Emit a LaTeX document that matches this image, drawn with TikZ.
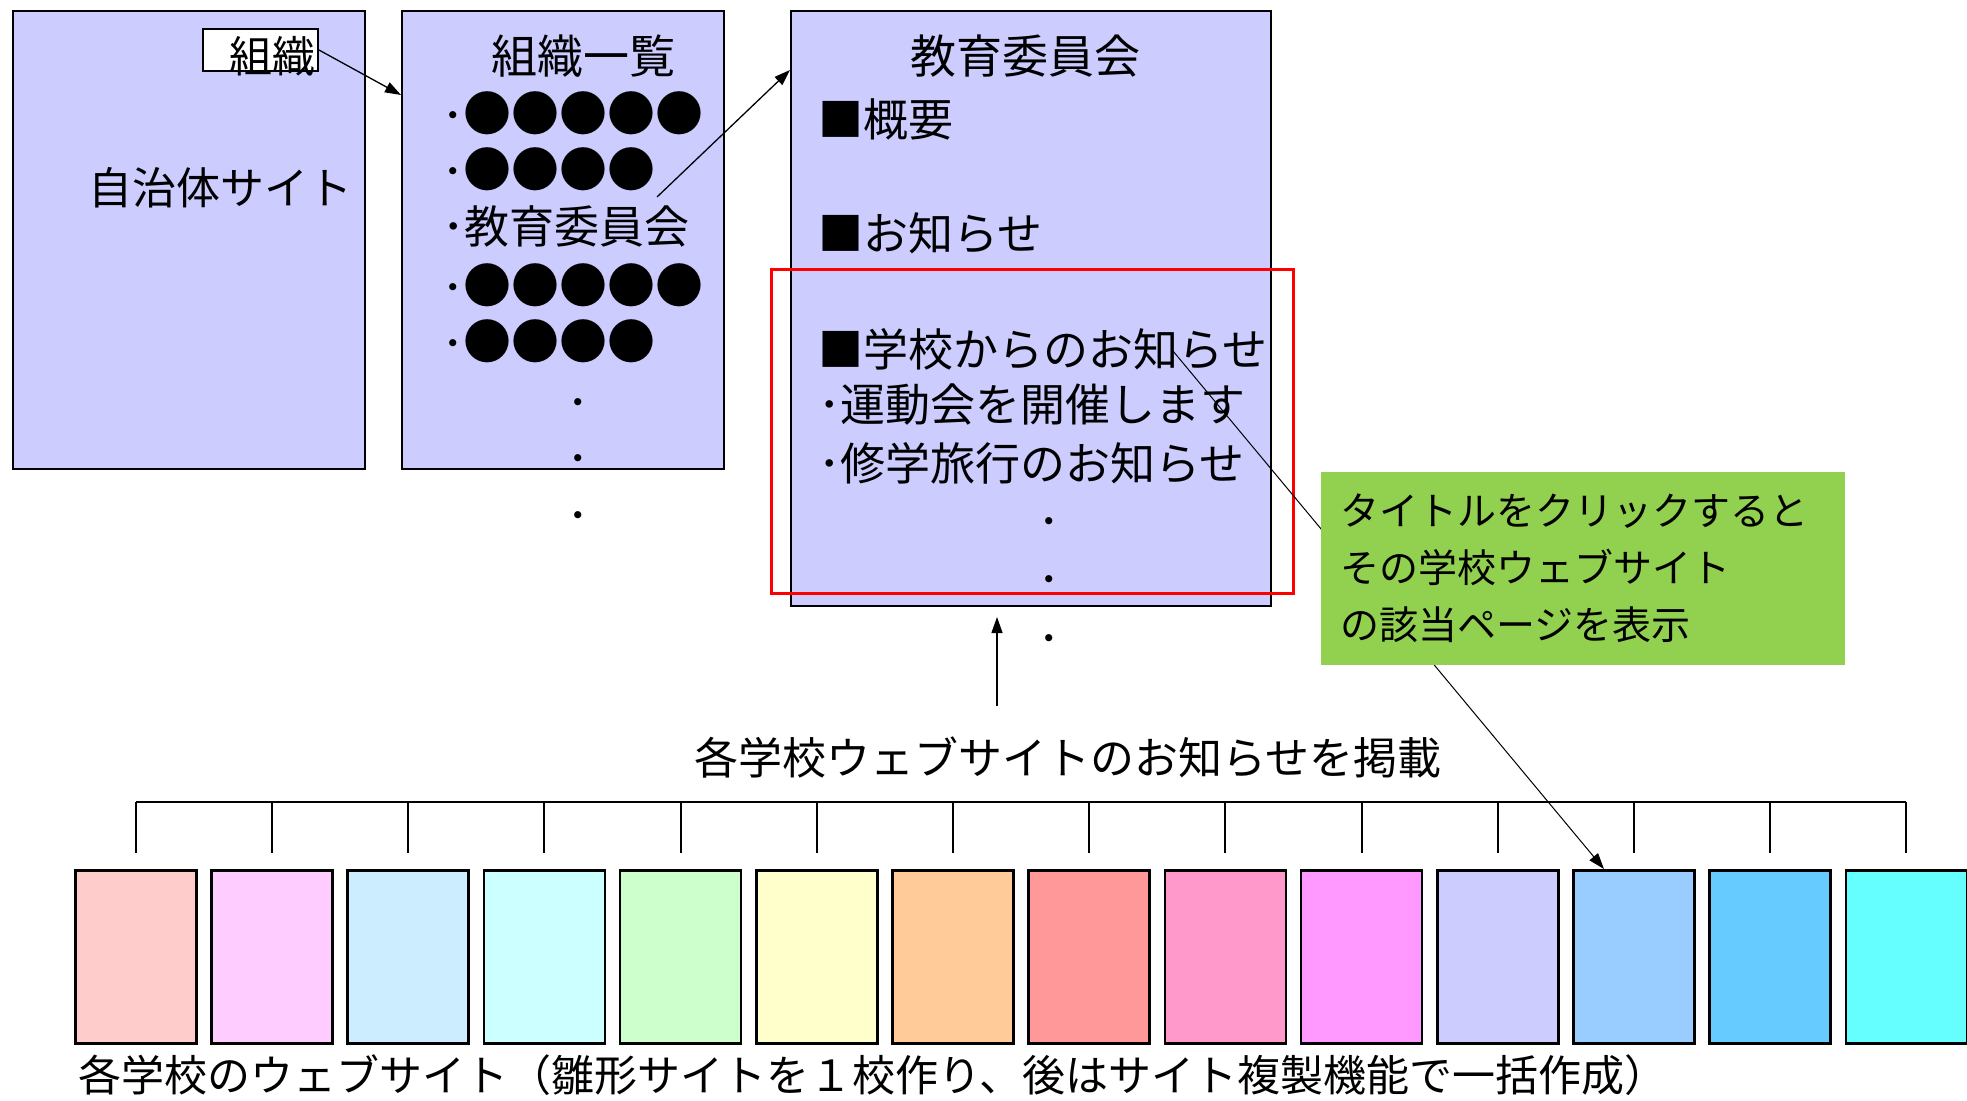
\documentclass[tikz,border=0pt]{standalone}
\usepackage{fontspec}
\setmainfont{Noto Sans CJK JP}
\usetikzlibrary{arrows.meta,calc}
\definecolor{pagefill}{HTML}{CCCCFF}
\definecolor{notegreen}{HTML}{92D050}
\definecolor{c1}{HTML}{FFCCCC}
\definecolor{c2}{HTML}{FFCCFF}
\definecolor{c3}{HTML}{CCECFF}
\definecolor{c4}{HTML}{CCFFFF}
\definecolor{c5}{HTML}{CCFFCC}
\definecolor{c6}{HTML}{FFFFCC}
\definecolor{c7}{HTML}{FFCC99}
\definecolor{c8}{HTML}{FF9999}
\definecolor{c9}{HTML}{FF99CC}
\definecolor{c10}{HTML}{FF99FF}
\definecolor{c11}{HTML}{CCCCFF}
\definecolor{c12}{HTML}{99CCFF}
\definecolor{c13}{HTML}{66CCFF}
\definecolor{c14}{HTML}{66FFFF}
\newcommand\jfs[1]{\fontsize{#1}{#1}\selectfont}
\newcommand\bigdots[1]{{\jfs{48}#1}}
\begin{document}
\begin{tikzpicture}[x=1pt,y=-1pt,
  page/.style={draw=black, line width=2pt, fill=pagefill, anchor=north west, inner sep=0pt},
  school/.style={draw=black, line width=2.5pt, anchor=north west, minimum width=121pt, minimum height=173pt, inner sep=0pt},
  lbl/.style={inner sep=0pt, font=\jfs{43}},
  item/.style={lbl, anchor=west},
  conn/.style={line width=1.3pt, -{Triangle[length=16pt,width=11pt]}},
  tick/.style={line width=2pt}]
\useasboundingbox (0,0) rectangle (1967,1100);

% municipal site
\node[page, minimum width=352pt, minimum height=458pt] (site) at (12,10) {};
\node[lbl, font=\jfs{44}] (sitelbl) at (220,188) {自治体サイト};
\node[draw=black, fill=white, line width=1.5pt, anchor=north west, minimum width=115pt, minimum height=42pt, inner sep=0pt] (soshiki) at (202,28) {};
\node[lbl, font=\jfs{43}] (soshikilbl) at (272,56) {組織};

% organisation list
\node[page, minimum width=322pt, minimum height=458pt] (orglist) at (401,10) {};
\node[lbl, font=\jfs{46}] (orgtitle) at (583,56) {組織一覧};
\node[item] (o1) at (442,113) {･\bigdots{●●●●●}};
\node[item] (o2) at (442,169) {･\bigdots{●●●●}};
\node[item, font=\jfs{45}] (o3) at (442,226) {･教育委員会};
\node[item] (o4) at (442,285) {･\bigdots{●●●●●}};
\node[item] (o5) at (442,341) {･\bigdots{●●●●}};
\node[lbl] (od1) at (578,409) {･};
\node[lbl] (od2) at (578,465) {･};
\node[lbl] (od3) at (578,522) {･};

% board of education page
\node[page, minimum width=480pt, minimum height=595pt] (edu) at (790,10) {};
\node[lbl, font=\jfs{46}] (edutitle) at (1025,56) {教育委員会};
\node[item, font=\jfs{45}] (e1) at (818,119) {■概要};
\node[item, font=\jfs{45}] (e2) at (818,233) {■お知らせ};
\node[item, font=\jfs{45}] (e3) at (818,349) {■学校からのお知らせ};
\node[item, font=\jfs{45}] (e4) at (818,405) {･運動会を開催します};
\node[item, font=\jfs{45}] (e5) at (818,463) {･修学旅行のお知らせ};
\node[lbl] (ed1) at (1049,528) {･};
\node[lbl] (ed2) at (1049,586) {･};
\node[lbl] (ed3) at (1049,645) {･};
\node[draw=red, line width=2.5pt, anchor=north west, minimum width=522pt, minimum height=324pt, inner sep=0pt] (frame) at (770,268) {};

% caption
\node[lbl, font=\jfs{44}] (feedlbl) at (1068,757) {各学校ウェブサイトのお知らせを掲載};

% school sites
\foreach \i in {1,...,14} {
  \node[school, fill=c\i] (s\i) at ({74+(\i-1)*136.2},869) {};
}
\draw[tick] ($(s1.north)+(0,-67)$) -- ($(s14.north)+(0,-67)$);
\foreach \i in {1,...,14} {
  \draw[tick] ($(s\i.north)+(0,-67)$) -- ($(s\i.north)+(0,-16)$);
}
\node[item, font=\jfs{43}] (bottomlbl) at (78,1075) {各学校のウェブサイト（雛形サイトを１校作り、後はサイト複製機能で一括作成）};

% connectors
\draw[conn] (soshiki.east) -- ($(orglist.north west)+(0,85)$);
\coordinate (a2s) at (657,197);
\draw[conn] (a2s) -- ($(edu.north west)+(0,60)$);
\coordinate (a3s) at (997,706);
\draw[conn] (a3s) -- ($(edu.south west)+(207,10)$);
\coordinate (a4s) at (1173,351);
\draw[conn, line width=1pt] (a4s) -- ($(s12.north)+(-30,0)$);

% note
\node[fill=notegreen, anchor=north west, minimum width=524pt, minimum height=193pt, inner sep=0pt] (note) at (1321,472) {};
\node[anchor=west, align=left, inner sep=0pt, font=\fontsize{39}{57}\selectfont] (notetext) at (1340,568) {タイトルをクリックすると\\その学校ウェブサイト\\の該当ページを表示};
\end{tikzpicture}
\end{document}
